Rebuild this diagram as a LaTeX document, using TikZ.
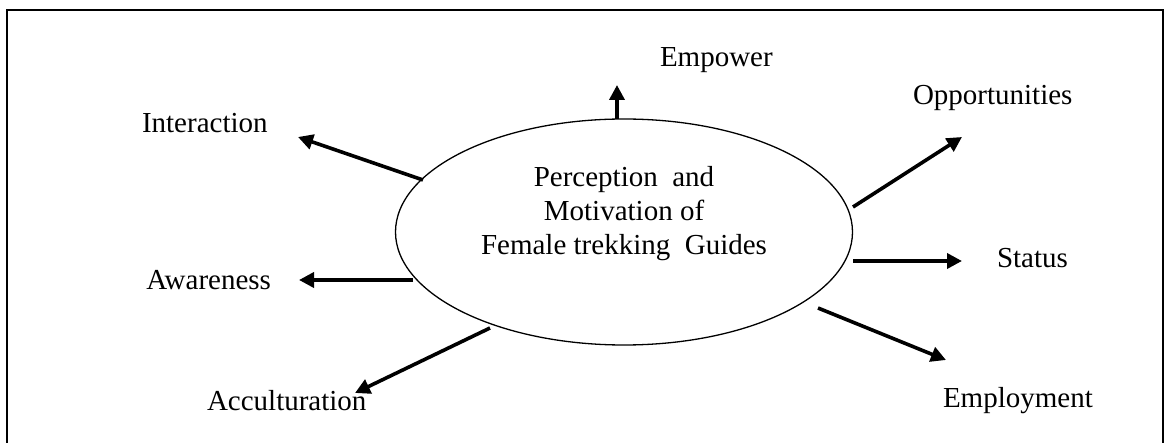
\documentclass[tikz,border=0pt]{standalone}
\usepackage{fontspec}
\setmainfont{Liberation Serif}
\usetikzlibrary{shapes.geometric,arrows.meta}
\begin{document}
\begin{tikzpicture}[x=1pt,y=-1pt,
  every node/.style={inner sep=0pt,outer sep=0pt,font=\fontsize{29pt}{34pt}\selectfont},
  label/.style={anchor=base west},
  hub/.style={draw,ellipse,line width=1.3pt,minimum width=457pt,minimum height=226pt},
  link/.style={line width=3.6pt,-{Triangle[length=15pt,width=15pt]}}]
\useasboundingbox (0,0) rectangle (1168,443);
% open frame around the figure
\draw[line width=2.2pt] (7,443) -- (7,10) -- (1163,10) -- (1163,443);

% central ellipse and its caption
\node[hub] (ell) at (624,232) {};
\node[anchor=base] (t1) at (624,187) {Perception\ \ and};
\node[anchor=base] (t2) at (624,221) {Motivation of};
\node[anchor=base] (t3) at (624,255) {Female trekking\ \ Guides};

% outcome labels
\node[label] (empower) at (660,67) {Empower};
\node[label] (opport) at (913,105) {Opportunities};
\node[label] (interact) at (142,133) {Interaction};
\node[label] (status) at (997,268) {Status};
\node[anchor=base east] (aware) at (271,290) {Awareness};
\node[label] (accult) at (207,411) {Acculturation};
\node[label] (employ) at (943,408) {Employment};

% arrow end points
\coordinate (sEmp) at (617,119);  \coordinate (eEmp) at (617,85);
\coordinate (sOpp) at (853,207);  \coordinate (eOpp) at (962,137);
\coordinate (sSta) at (853,261);  \coordinate (eSta) at (962,261);
\coordinate (sEmy) at (818,308);  \coordinate (eEmy) at (946,360);
\coordinate (sAcc) at (490,328);  \coordinate (eAcc) at (355,393);
\coordinate (sAwa) at (413,280);  \coordinate (eAwa) at (299,280);
\coordinate (sInt) at (423,180);  \coordinate (eInt) at (298,137);

% arrows radiating from the ellipse
\draw[link] (sEmp) -- (eEmp);
\draw[link] (sOpp) -- (eOpp);
\draw[link] (sSta) -- (eSta);
\draw[link] (sEmy) -- (eEmy);
\draw[link] (sAcc) -- (eAcc);
\draw[link] (sAwa) -- (eAwa);
\draw[link] (sInt) -- (eInt);
\end{tikzpicture}
\end{document}
